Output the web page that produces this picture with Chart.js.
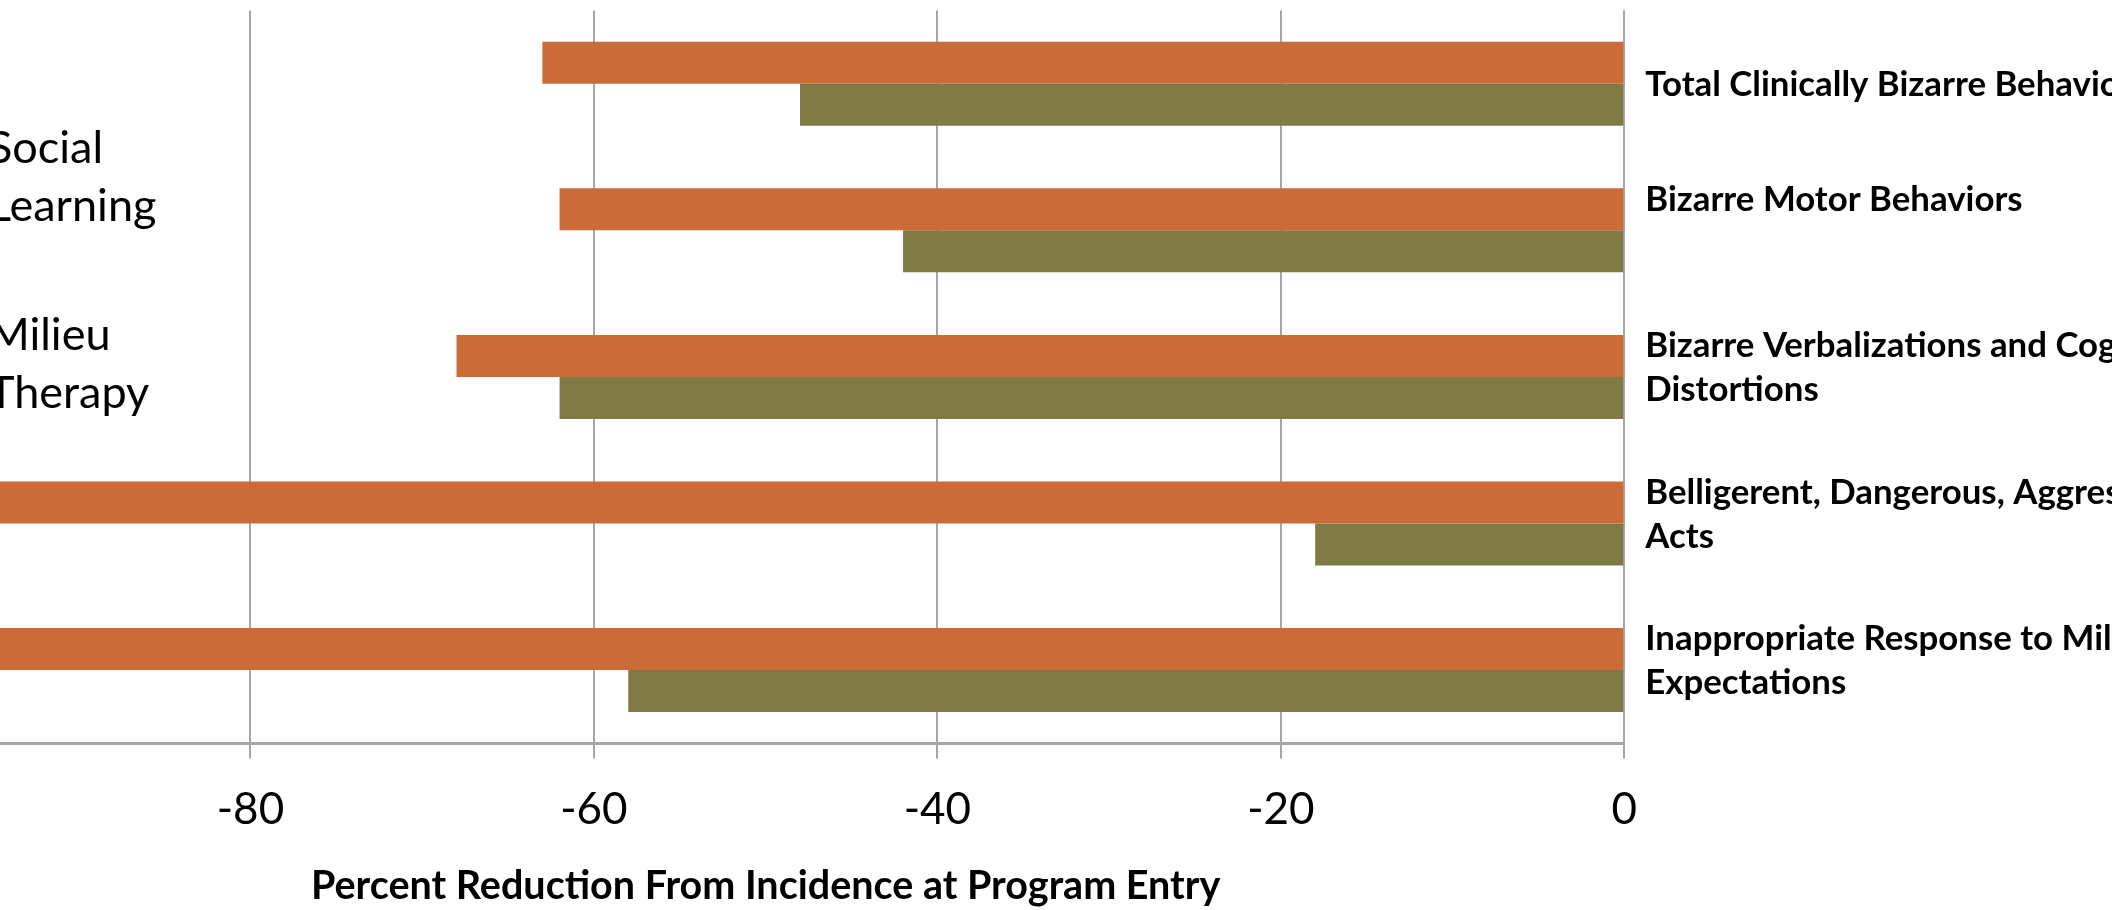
<!DOCTYPE html>
<html>
<head>
<meta charset="utf-8">
<title>Percent Reduction From Incidence at Program Entry</title>
<script src="https://cdn.jsdelivr.net/npm/chart.js@4.4.1/dist/chart.umd.min.js"></script>
<style>
  html, body { margin: 0; padding: 0; background: #fff; overflow: hidden; }
  body { width: 2112px; height: 910px; position: relative; }
  .chart-box { position: absolute; left: -200px; top: 0; width: 2600px; height: 910px; }
</style>
</head>
<body>
<div class="chart-box"><canvas id="myChart"></canvas></div>
<script>
// categories, one array of lines per label
const categories = [
    ['Total Clinically Bizarre Behaviors'],
    ['Bizarre Motor Behaviors', ''],
    ['Bizarre Verbalizations and Cognitive', 'Distortions'],
    ['Belligerent, Dangerous, Aggressive', 'Acts'],
    ['Inappropriate Response to Milieu', 'Expectations']
];
const seriesNames = ['Social Learning', 'Milieu Therapy'];
const socialLearning = [-63, -62, -68, -100, -100];
const milieuTherapy = [-48, -42, -62, -18, -58];
const xTicks = [-100, -80, -60, -40, -20, 0];
const axisTitle = 'Percent Reduction From Incidence at Program Entry';

const colors = ['#CB6B38', '#807A44'];
const gridColor = '#A6A6A6';

// category names to the right of the zero line, and the two-line legend on the left
const sideText = {
    id: 'sideText',
    afterDraw(chart) {
        const ctx = chart.ctx;
        const area = chart.chartArea;
        const y = chart.scales.y;
        ctx.save();
        ctx.fillStyle = '#000';
        ctx.textAlign = 'left';
        ctx.textBaseline = 'middle';

        ctx.font = 'bold 34.8px Lato';
        const lh = 44;
        categories.forEach(function(lines, i) {
            const yc = y.getPixelForValue(i);
            let top = yc;
            if (lines.length > 1) top = yc - 10 - (lines.length - 1) * lh / 2;
            lines.forEach(function(t, k) {
                ctx.fillText(t, area.right + 21, top + k * lh + 1);
            });
        });

        ctx.font = '45px Lato';
        const legendTop = [147, 334];
        seriesNames.forEach(function(name, i) {
            const tx = area.left + 81;
            ctx.fillStyle = colors[i];
            ctx.fillRect(tx - 42, legendTop[i] + 14, 20, 20);
            ctx.fillStyle = '#000';
            name.split(' ').forEach(function(word, k) {
                ctx.fillText(word, tx, legendTop[i] + k * 58 + 1);
            });
        });
        ctx.restore();
    }
};

var ctx = document.getElementById('myChart').getContext('2d');
var myChart = new Chart(ctx, {
    type: 'bar',
    data: {
        labels: categories,
        datasets: [{
            label: seriesNames[0],
            data: socialLearning,
            backgroundColor: colors[0]
        }, {
            label: seriesNames[1],
            data: milieuTherapy,
            backgroundColor: colors[1]
        }]
    },
    options: {
        indexAxis: 'y',
        responsive: true,
        maintainAspectRatio: false,
        animation: false,
        categoryPercentage: 0.573,
        barPercentage: 1,
        layout: {
            padding: { left: 107, right: 775.7, top: 10.4, bottom: 0 }
        },
        plugins: {
            legend: { display: false },
            tooltip: { enabled: false }
        },
        scales: {
            x: {
                min: -100,
                max: 0,
                afterBuildTicks: function(axis) {
                    axis.ticks = xTicks.map(function(v) { return { value: v }; });
                },
                afterFit: function(axis) {
                    axis.height = 166.6;
                },
                grid: {
                    color: gridColor,
                    lineWidth: 2,
                    tickLength: 15
                },
                border: { display: true, color: gridColor, width: 3 },
                ticks: {
                    color: '#000',
                    padding: 25,
                    maxRotation: 0,
                    font: { family: 'Lato', size: 44 }
                },
                title: {
                    display: true,
                    text: axisTitle,
                    color: '#000',
                    padding: { top: 0, bottom: 0 },
                    font: { family: 'Lato', size: 39.5, weight: 'bold' }
                }
            },
            y: {
                display: false
            }
        }
    },
    plugins: [sideText]
});
</script>
</body>
</html>
